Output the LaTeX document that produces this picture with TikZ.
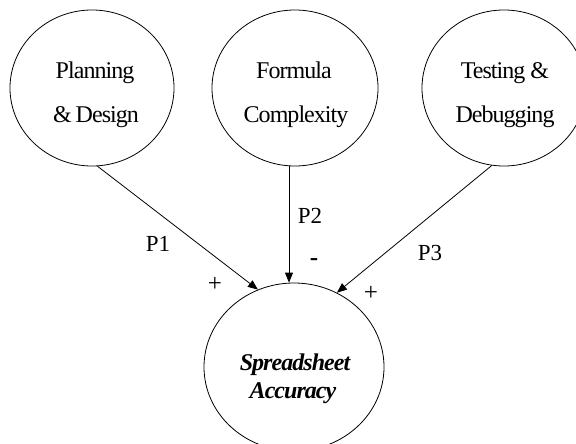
\documentclass[tikz,border=0pt]{standalone}
\usepackage{fontspec}
\setmainfont{Liberation Serif}
\newfontfamily\tightfont[LetterSpace=-4]{Liberation Serif}
\usetikzlibrary{shapes.geometric,arrows.meta}
\tikzset{
  circ/.style={draw=black, line width=0.8pt, ellipse, inner sep=0pt},
  lbl/.style={anchor=base, inner sep=0pt, font=\tightfont\fontsize{24}{26}\selectfont},
  plbl/.style={anchor=base, inner sep=0pt, font=\fontsize{23}{25}\selectfont},
  sgn/.style={inner sep=0pt, font=\fontsize{25}{27}\selectfont},
  flow/.style={draw=black, line width=0.8pt, -{Triangle[length=10pt,width=8pt]}},
}
\begin{document}
\begin{tikzpicture}[x=1pt,y=-1pt]
\useasboundingbox (0,0) rectangle (576,444);
% circles
\node[circ, minimum width=164pt, minimum height=156pt] (plan) at (92,88) {};
\node[circ, minimum width=166pt, minimum height=156pt] (form) at (295,88) {};
\node[circ, minimum width=164pt, minimum height=156pt] (test) at (504,88) {};
\node[circ, minimum width=180pt, minimum height=168pt] (acc) at (294,367) {};
% circle texts
\node[lbl] (t1a) at (95,78) {Planning};
\node[lbl] (t1b) at (96,122) {\&\,Design};
\node[lbl] (t2a) at (294,79) {Formula};
\node[lbl] (t2b) at (296,122) {Complexity};
\node[lbl] (t3a) at (505,79) {Testing \&};
\node[lbl] (t3b) at (505,122) {Debugging};
\node[lbl, font=\tightfont\fontsize{24}{26}\selectfont\bfseries\itshape] (t4a) at (295,370) {Spreadsheet};
\node[lbl, font=\tightfont\fontsize{24}{26}\selectfont\bfseries\itshape] (t4b) at (293,398) {Accuracy};
% connectors
\draw[flow] (plan.274) -- (acc.115.6);
\draw[flow] ([xshift=-6pt]form.south) -- ([xshift=-6pt]form.south |- acc.north);
\draw[flow] (test.261) -- (acc.60);
% connector labels
\node[plbl] (p1) at (158,251) {P1};
\node[plbl] (p2) at (310,223) {P2};
\node[plbl] (p3) at (430,260) {P3};
\node[sgn, font=\fontsize{25}{27}\selectfont\bfseries] (m2) at (314,262) {-};
\node[sgn] (pl1) at (215,284) {+};
\node[sgn] (pl3) at (371,293) {+};
\end{tikzpicture}
\end{document}
